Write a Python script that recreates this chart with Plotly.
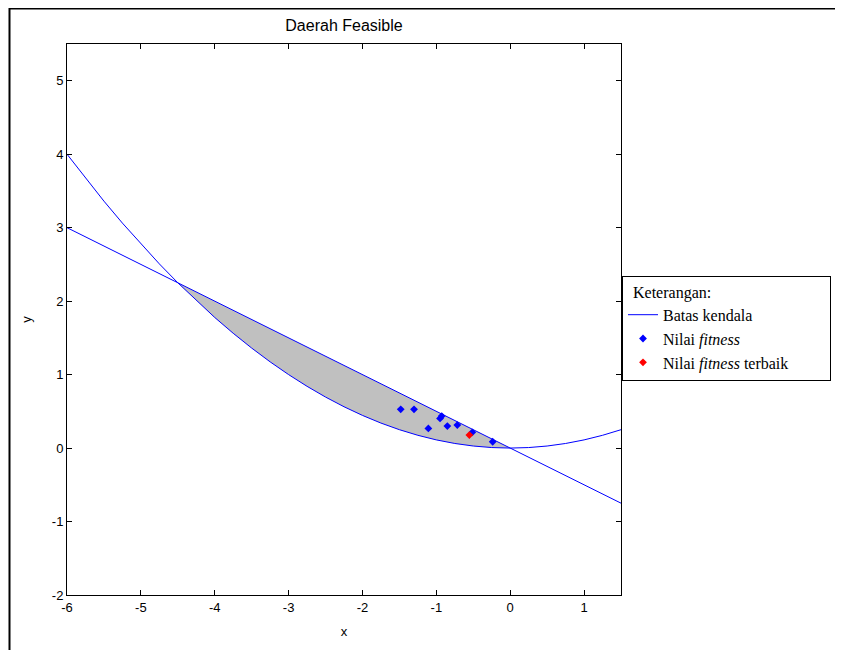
import plotly.graph_objects as go

# Constraint 1: parabola
parab_x = [-6, -5.75, -5.5, -5.25, -5, -4.75, -4.5, -4.25, -4, -3.75, -3.5, -3.25, -3,
           -2.75, -2.5, -2.25, -2, -1.75, -1.5, -1.25, -1, -0.75, -0.5, -0.25, 0,
           0.25, 0.5, 0.75, 1, 1.25, 1.5]
parab_y = [4.0, 3.6736, 3.3611, 3.0625, 2.7778, 2.5069, 2.25, 2.0069, 1.7778, 1.5625,
           1.3611, 1.1736, 1.0, 0.8403, 0.6944, 0.5625, 0.4444, 0.3403, 0.25, 0.1736,
           0.1111, 0.0625, 0.0278, 0.0069, 0.0, 0.0069, 0.0278, 0.0625, 0.1111, 0.1736, 0.25]

# Constraint 2: straight line
line_x = [-6, 1.5]
line_y = [3, -0.75]

# Fitness values (particles)
fit_x = [-1.482, -1.302, -0.927, -0.950, -1.108, -0.851, -0.716, -0.513, -0.237]
fit_y = [0.527, 0.527, 0.435, 0.404, 0.268, 0.299, 0.313, 0.214, 0.086]

# Best fitness
best_x = [-0.553]
best_y = [0.177]

# Tick labels
x_ticks = [-6, -5, -4, -3, -2, -1, 0, 1]
x_ticktext = ["-6", "-5", "-4", "-3", "-2", "-1", "0", "1"]
y_ticks = [-2, -1, 0, 1, 2, 3, 4, 5]
y_ticktext = ["-2", "-1", "0", "1", "2", "3", "4", "5"]

# Feasible region: parabola from intersection (-4.5, 2.25) to (0, 0), closed along the line
i0 = parab_x.index(-4.5)
i1 = parab_x.index(0)
fill_x = parab_x[i0:i1 + 1]
fill_y = parab_y[i0:i1 + 1]

NB = "\u00a0"

fig = go.Figure()
fig.add_trace(go.Scatter(x=fill_x, y=fill_y, fill="toself", fillcolor="#c0c0c0",
                         line=dict(width=0), mode="lines", showlegend=False, hoverinfo="skip"))
fig.add_trace(go.Scatter(x=parab_x, y=parab_y, mode="lines", line=dict(color="#0000ff", width=1),
                         name="Batas kendala", legendgroup="bk", showlegend=True))
fig.add_trace(go.Scatter(x=line_x, y=line_y, mode="lines", line=dict(color="#0000ff", width=1),
                         name="Batas kendala", legendgroup="bk", showlegend=False))
fig.add_trace(go.Scatter(x=fit_x, y=fit_y, mode="markers",
                         marker=dict(symbol="diamond", size=6, color="#0000ff"),
                         name="Nilai <i>fitness</i>"))
fig.add_trace(go.Scatter(x=best_x, y=best_y, mode="markers",
                         marker=dict(symbol="diamond", size=6, color="#ff0000"),
                         name="Nilai <i>fitness</i> terbaik" + NB * 9))

OFF = 8  # page body offset
W, H = 843, 650
pw, ph = 554, 551
L = 67 - OFF
T = 44 - OFF
R = W - L - pw
B = H - T - ph

def px(page_x):
    return (page_x - OFF - L) / pw

def py(page_y):
    return (H - B - (page_y - OFF)) / ph

axis_common = dict(showline=True, linecolor="black", linewidth=1, mirror="allticks",
                   ticks="inside", ticklen=5, tickcolor="black", showgrid=False,
                   zeroline=False,
                   tickfont=dict(family="Liberation Sans", size=13, color="black"),
                   title_font=dict(family="Liberation Sans", size=13, color="black"))

fig.update_layout(
    width=W, height=H,
    margin=dict(l=L, r=R, t=T, b=B),
    paper_bgcolor="white", plot_bgcolor="white",
    title=dict(text="Daerah Feasible", x=(L + pw / 2) / W, xanchor="center",
               y=1 - (25 - OFF) / H, yanchor="middle",
               font=dict(family="Liberation Sans", size=16, color="black")),
    xaxis=dict(range=[-6, 1.5], tickvals=x_ticks, ticktext=x_ticktext,
               title=dict(text="x", standoff=13), **axis_common),
    yaxis=dict(range=[-2, 5.5], tickvals=y_ticks, ticktext=y_ticktext,
               title=dict(text="y", standoff=17), **axis_common),
    legend=dict(x=px(622), xanchor="left", y=py(276), yanchor="top",
                bordercolor="black", borderwidth=1, bgcolor="white",
                title=dict(text=NB * 2 + "Keterangan:",
                           font=dict(family="Liberation Serif", size=16, color="black")),
                font=dict(family="Liberation Serif", size=16, color="black"),
                itemwidth=30, tracegroupgap=0),
    shapes=[
        dict(type="line", xref="paper", yref="paper", x0=px(9), x1=px(843), y0=py(8.5), y1=py(8.5),
             line=dict(color="black", width=2)),
        dict(type="line", xref="paper", yref="paper", x0=px(9.5), x1=px(9.5), y0=py(7), y1=py(660),
             line=dict(color="black", width=2)),
    ],
)

fig.write_html("out.html")
